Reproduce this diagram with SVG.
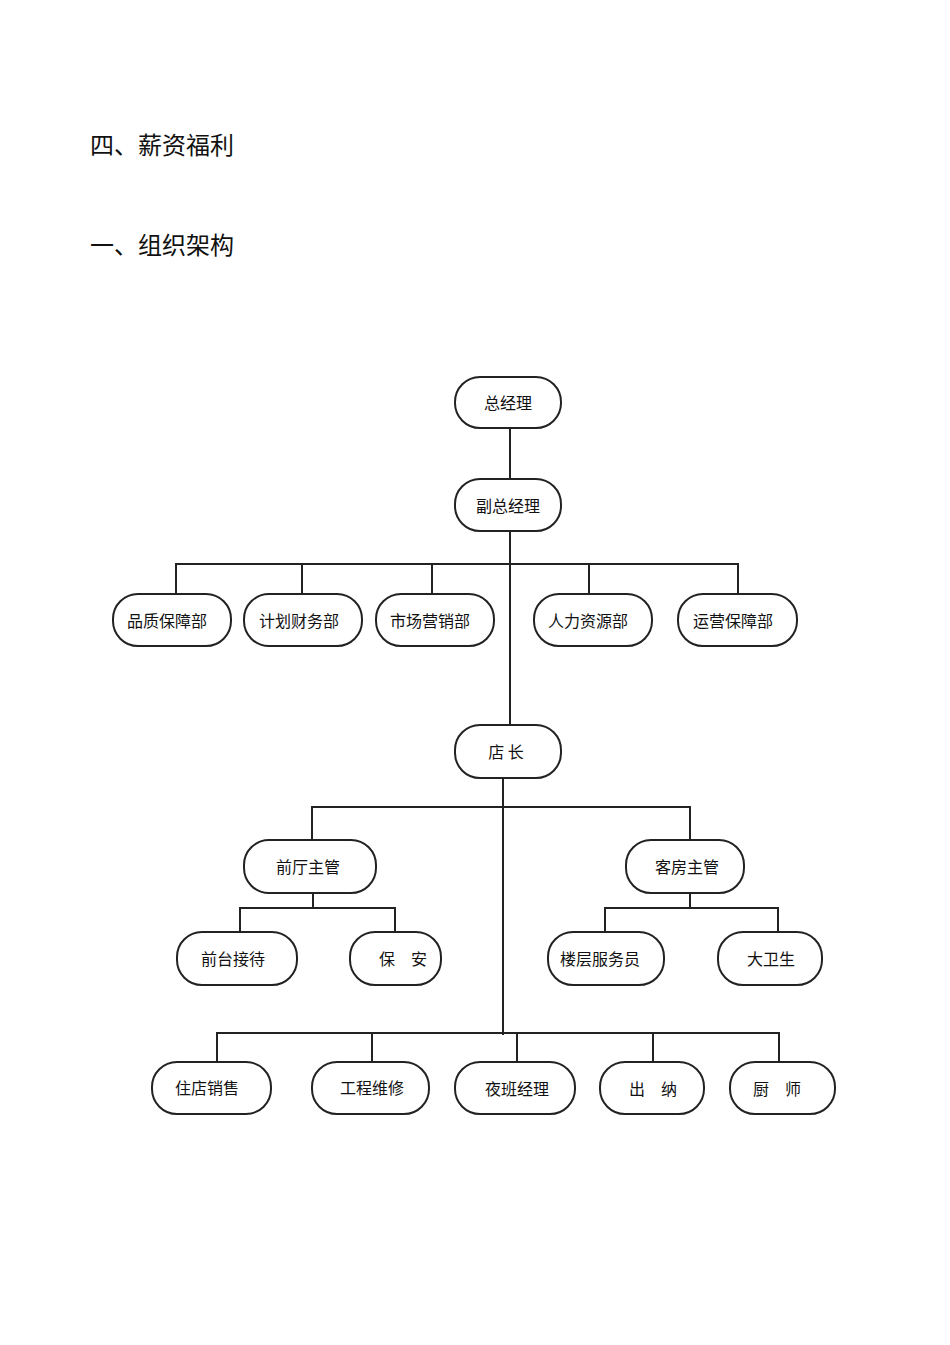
<svg xmlns="http://www.w3.org/2000/svg" width="950" height="1345" viewBox="0 0 950 1345">
<style>
.n rect{fill:#fff;stroke:#222;stroke-width:2}
.n text{font-family:"Noto Sans CJK SC",sans-serif;font-size:16px;fill:#111;text-anchor:middle;dominant-baseline:central}
.h{font-family:"Noto Sans CJK SC",sans-serif;font-size:24px;fill:#111}
#c path{fill:none;stroke:#222;stroke-width:2}
</style>
<rect width="950" height="1345" fill="#fff"/>
<text class="h" x="90" y="154">四、薪资福利</text>
<text class="h" x="90" y="254">一、组织架构</text>
<g id="c">
<path d="M510 428V479M510 531V725M176 594V564H738V594M302 564V594M432 564V594M589 564V594"/>
<path d="M503 778V1035M312 840V807H690V840M313 893V908M240 932V908H395V932M690 893V908M605 932V908H778V932"/>
<path d="M217 1062V1033H779V1062M372 1033V1062M517 1033V1062M653 1033V1062"/>
</g>
<g id="n1" class="n"><rect x="455" y="377" width="106" height="51" rx="25"/><text x="508" y="402">总经理</text></g>
<g id="n2" class="n"><rect x="455" y="479" width="106" height="52" rx="25"/><text x="508" y="505">副总经理</text></g>
<g id="n3" class="n"><rect x="113" y="594" width="118" height="52" rx="25"/><text x="167" y="620">品质保障部</text></g>
<g id="n4" class="n"><rect x="244" y="594" width="118" height="52" rx="25"/><text x="299" y="620">计划财务部</text></g>
<g id="n5" class="n"><rect x="376" y="594" width="118" height="52" rx="25"/><text x="430" y="620">市场营销部</text></g>
<g id="n6" class="n"><rect x="534" y="594" width="118" height="52" rx="25"/><text x="588" y="620">人力资源部</text></g>
<g id="n7" class="n"><rect x="678" y="594" width="119" height="52" rx="25"/><text x="733" y="620">运营保障部</text></g>
<g id="n8" class="n"><rect x="455" y="725" width="106" height="53" rx="25"/><text x="506" y="751">店 长</text></g>
<g id="n9" class="n"><rect x="244" y="840" width="132" height="53" rx="25"/><text x="308" y="866">前厅主管</text></g>
<g id="n10" class="n"><rect x="626" y="840" width="118" height="53" rx="25"/><text x="687" y="866">客房主管</text></g>
<g id="n11" class="n"><rect x="177" y="932" width="120" height="53" rx="25"/><text x="233" y="958">前台接待</text></g>
<g id="n12" class="n"><rect x="350" y="932" width="91" height="53" rx="25"/><text x="403" y="958">保　安</text></g>
<g id="n13" class="n"><rect x="548" y="932" width="116" height="53" rx="25"/><text x="600" y="958">楼层服务员</text></g>
<g id="n14" class="n"><rect x="718" y="932" width="104" height="53" rx="25"/><text x="771" y="958">大卫生</text></g>
<g id="n15" class="n"><rect x="152" y="1062" width="119" height="52" rx="25"/><text x="207" y="1087">住店销售</text></g>
<g id="n16" class="n"><rect x="312" y="1062" width="117" height="52" rx="25"/><text x="372" y="1087">工程维修</text></g>
<g id="n17" class="n"><rect x="455" y="1062" width="120" height="52" rx="25"/><text x="517" y="1088">夜班经理</text></g>
<g id="n18" class="n"><rect x="600" y="1062" width="104" height="52" rx="25"/><text x="653" y="1088">出　纳</text></g>
<g id="n19" class="n"><rect x="730" y="1062" width="105" height="52" rx="25"/><text x="777" y="1088">厨　师</text></g>
</svg>
